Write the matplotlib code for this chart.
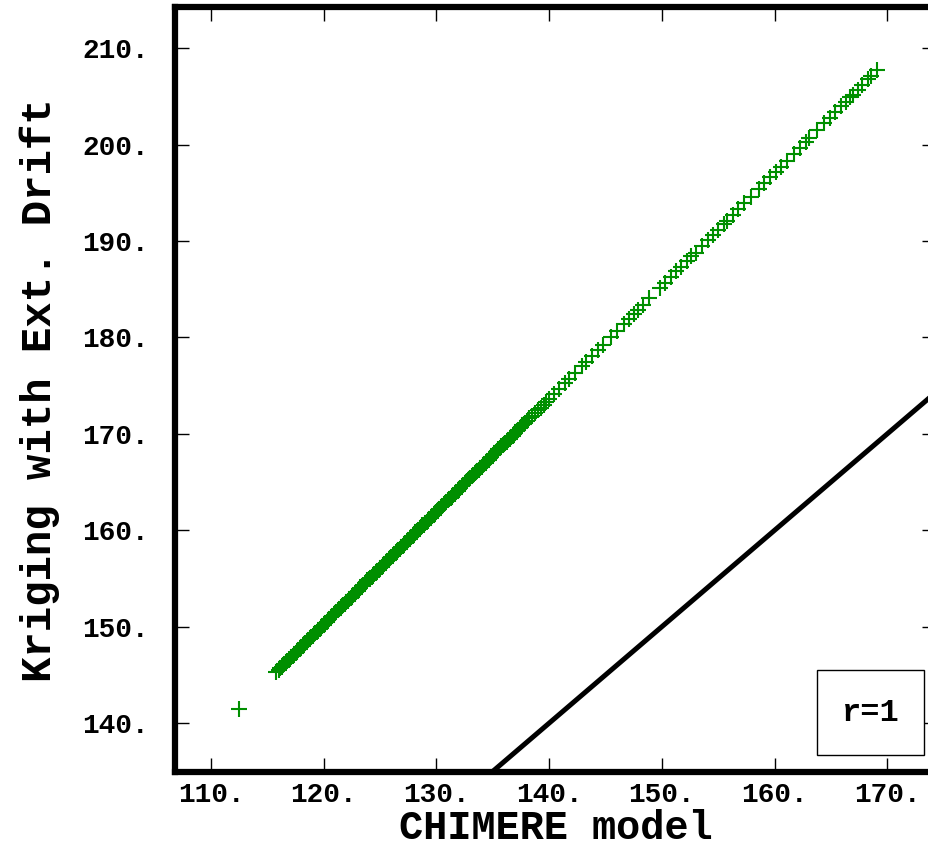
import matplotlib
matplotlib.use("Agg")
import matplotlib.pyplot as plt
from matplotlib.patches import Rectangle

plt.rcParams['font.family'] = ['Liberation Mono', 'DejaVu Sans']
plt.rcParams['font.weight'] = 'bold'

# CHIMERE model values (x) vs kriging with external drift (y)
chimere = [
    112.5,
    115.8, 116.0, 116.25, 116.5, 116.75, 117.0, 117.25, 117.5, 117.75,
    118.0, 118.25, 118.5, 118.75, 119.0, 119.25, 119.5, 119.75,
    120.0, 120.25, 120.5, 120.75, 121.0, 121.25, 121.5, 121.75,
    122.0, 122.25, 122.5, 122.75, 123.0, 123.25, 123.5, 123.75,
    124.0, 124.25, 124.5, 124.75, 125.0, 125.25, 125.5, 125.75,
    126.0, 126.25, 126.5, 126.75, 127.0, 127.25, 127.5, 127.75,
    128.0, 128.25, 128.5, 128.75, 129.0, 129.25, 129.5, 129.75,
    130.0, 130.25, 130.5, 130.75, 131.0, 131.25, 131.5, 131.75,
    132.0, 132.25, 132.5, 132.75, 133.0, 133.25, 133.5, 133.75,
    134.0, 134.25, 134.5, 134.75, 135.0, 135.25, 135.5, 135.75,
    136.0, 136.25, 136.5, 136.75, 137.0, 137.25, 137.5, 137.75,
    138.0, 138.5, 139.0, 139.5, 140.0, 140.4, 140.9, 141.4, 141.8,
    142.3, 142.9, 143.3, 143.8, 144.3, 144.8, 145.5, 146.0, 146.6,
    147.1, 147.5, 147.9, 148.3, 148.9,
    149.8, 150.3, 150.8, 151.3, 151.7, 152.2, 152.6, 153.0, 153.6,
    154.1, 154.5, 155.0, 155.5, 155.8, 156.3, 156.8, 157.3, 157.9,
    158.6, 159.1, 159.6, 160.1, 160.6, 161.1, 161.7, 162.3, 162.8,
    163.1, 163.8, 164.4, 164.9, 165.4, 165.9, 166.3, 166.7, 167.0,
    167.4, 167.8, 168.3, 168.6, 169.1,
]
kriging = [
    141.5,
    145.3, 145.5, 145.8, 146.1, 146.4, 146.7, 147.0, 147.3, 147.6,
    147.9, 148.2, 148.5, 148.8, 149.0, 149.3, 149.6, 149.9,
    150.2, 150.5, 150.8, 151.1, 151.4, 151.7, 152.0, 152.3,
    152.6, 152.9, 153.1, 153.4, 153.7, 154.0, 154.3, 154.6,
    154.9, 155.2, 155.5, 155.8, 156.1, 156.4, 156.6, 156.9,
    157.2, 157.5, 157.8, 158.1, 158.4, 158.7, 159.0, 159.3,
    159.6, 159.9, 160.2, 160.5, 160.8, 161.0, 161.3, 161.6,
    161.9, 162.2, 162.5, 162.8, 163.1, 163.4, 163.7, 164.0,
    164.3, 164.6, 164.9, 165.1, 165.4, 165.7, 166.0, 166.3,
    166.6, 166.9, 167.2, 167.5, 167.8, 168.1, 168.4, 168.7,
    169.0, 169.2, 169.5, 169.8, 170.1, 170.4, 170.7, 171.0,
    171.3, 171.9, 172.5, 173.0, 173.6, 174.1, 174.7, 175.3, 175.7,
    176.3, 177.0, 177.5, 178.1, 178.7, 179.2, 180.1, 180.7, 181.4,
    181.9, 182.4, 182.9, 183.4, 184.1,
    185.1, 185.7, 186.3, 186.9, 187.3, 187.9, 188.4, 188.8, 189.5,
    190.1, 190.6, 191.2, 191.8, 192.1, 192.7, 193.3, 193.9, 194.6,
    195.4, 196.0, 196.6, 197.2, 197.7, 198.3, 199.0, 199.7, 200.3,
    200.7, 201.5, 202.2, 202.8, 203.4, 204.0, 204.4, 204.9, 205.2,
    205.7, 206.2, 206.8, 207.1, 207.7,
]

# extra stations in the crowded low range (116-140)
chimere_dense = [
    116.125, 116.375, 116.625, 116.875, 117.125, 117.375, 117.625, 117.875,
    118.125, 118.375, 118.625, 118.875, 119.125, 119.375, 119.625, 119.875,
    120.125, 120.375, 120.625, 120.875, 121.125, 121.375, 121.625, 121.875,
    122.125, 122.375, 122.625, 122.875, 123.125, 123.375, 123.625, 123.875,
    124.125, 124.375, 124.625, 124.875, 125.125, 125.375, 125.625, 125.875,
    126.125, 126.375, 126.625, 126.875, 127.125, 127.375, 127.625, 127.875,
    128.125, 128.375, 128.625, 128.875, 129.125, 129.375, 129.625, 129.875,
    130.125, 130.375, 130.625, 130.875, 131.125, 131.375, 131.625, 131.875,
    132.125, 132.375, 132.625, 132.875, 133.125, 133.375, 133.625, 133.875,
    134.125, 134.375, 134.625, 134.875, 135.125, 135.375, 135.625, 135.875,
    136.125, 136.375, 136.625, 136.875, 137.125, 137.375, 137.625, 137.875,
    138.25, 138.75, 139.25, 139.75,
]
kriging_dense = [
    145.7, 146.0, 146.3, 146.6, 146.9, 147.1, 147.4, 147.7,
    148.0, 148.3, 148.6, 148.9, 149.2, 149.5, 149.8, 150.1,
    150.4, 150.7, 151.0, 151.2, 151.5, 151.8, 152.1, 152.4,
    152.7, 153.0, 153.3, 153.6, 153.9, 154.2, 154.5, 154.8,
    155.0, 155.3, 155.6, 155.9, 156.2, 156.5, 156.8, 157.1,
    157.4, 157.7, 158.0, 158.3, 158.6, 158.8, 159.1, 159.4,
    159.7, 160.0, 160.3, 160.6, 160.9, 161.2, 161.5, 161.8,
    162.1, 162.4, 162.7, 162.9, 163.2, 163.5, 163.8, 164.1,
    164.4, 164.7, 165.0, 165.3, 165.6, 165.9, 166.2, 166.5,
    166.8, 167.0, 167.3, 167.6, 167.9, 168.2, 168.5, 168.8,
    169.1, 169.4, 169.7, 170.0, 170.3, 170.6, 170.9, 171.1,
    171.6, 172.2, 172.7, 173.3,
]

# 1:1 reference line
ref_line = [100.0, 220.0]

xticks = [110, 120, 130, 140, 150, 160, 170]
yticks = [140, 150, 160, 170, 180, 190, 200, 210]

fig = plt.figure(figsize=(9.29, 8.49), dpi=100)
ax = fig.add_axes([0.1884, 0.0907, 0.8188, 0.9005])

green = '#008f00'
ax.plot(chimere, kriging, linestyle='none', marker='+', markersize=12,
        markeredgewidth=1.5, color=green)
ax.plot(chimere_dense, kriging_dense, linestyle='none', marker='+',
        markersize=12, markeredgewidth=1.5, color=green)
ax.plot(ref_line, ref_line, color='black', linewidth=3.6)

ax.set_xlim(106.8, 174.3)
ax.set_ylim(134.93, 214.23)

ax.set_xticks(xticks)
ax.set_yticks(yticks)
ax.set_xticklabels([f"{t}." for t in xticks])
ax.set_yticklabels([f"{t}." for t in yticks])

for s in ax.spines.values():
    s.set_linewidth(4.5)

ax.tick_params(direction='in', length=10, width=1, top=True, right=True,
               labelsize=20)
ax.tick_params(axis='x', pad=7)
ax.tick_params(axis='y', pad=19)

ax.set_xlabel("CHIMERE model", fontsize=29, fontweight='bold', labelpad=1)
ax.set_ylabel("Kriging with Ext. Drift", fontsize=30.5, fontweight='bold',
              labelpad=16)

box = Rectangle((0.844, 0.0218), 0.1407, 0.1116, transform=ax.transAxes,
                facecolor='white', edgecolor='black', linewidth=1, zorder=5)
ax.add_patch(box)
ax.text(0.9143, 0.0776, "r=1", transform=ax.transAxes, ha='center',
        va='center', fontsize=23, fontweight='bold', zorder=6)

fig.savefig("out.png", dpi=100)
